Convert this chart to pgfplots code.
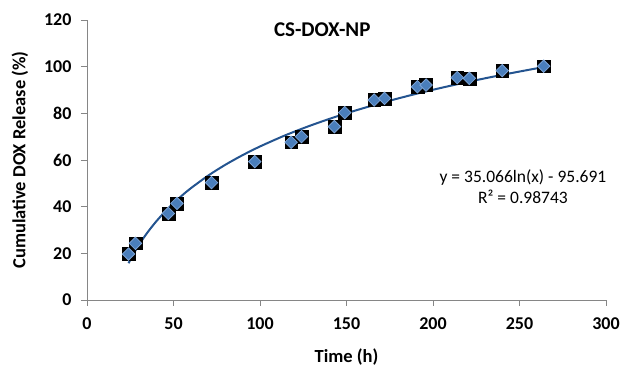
\documentclass[border=0pt]{standalone}
\usepackage{fontspec}
\setmainfont{Carlito}
\usepackage{pgfplots}
\pgfplotsset{compat=1.18}
\definecolor{axgray}{HTML}{868686}
\definecolor{mkblue}{HTML}{4A7EBB}
\definecolor{mkedge}{HTML}{7BA3D6}
\definecolor{trend}{HTML}{245490}
\pgfplotstableread{
x y
24 19.7
28 24.3
47 37.1
52 41.4
72 50.3
97 59.3
118 67.6
124 70.0
143 74.3
149 80.3
166 85.7
172 86.4
191 91.4
196 92.1
214 95.3
221 95.0
240 98.3
264 100.2
}\release
\begin{document}
\begin{tikzpicture}
\begin{axis}[
  scale only axis, width=519pt, height=280pt,
  xmin=0, xmax=300, ymin=0, ymax=120,
  xtick={0,50,...,300}, ytick={0,20,...,120},
  axis lines=left,
  axis line style={-, draw=axgray, line width=0.9pt},
  tick align=outside,
  major tick length=6pt,
  tick style={draw=axgray, line width=0.9pt},
  /pgf/number format/assume math mode=true,
  tick label style={font=\fontsize{18}{20}\selectfont\bfseries},
  xticklabel style={yshift=-8pt},
  yticklabel style={xshift=-6pt},
  xlabel={Time (h)},
  ylabel={Cumulative DOX Release (\%)},
  label style={font=\fontsize{18.5}{21}\selectfont\bfseries},
  xlabel style={at={(axis description cs:0.5,0)}, anchor=center, yshift=-57pt},
  ylabel style={at={(axis description cs:0,0.5)}, anchor=center, rotate=0, yshift=67pt},
  clip=false,
]
\coordinate (O) at (rel axis cs:0,0);
\addplot[only marks, mark=square*, mark size=6.4pt, mark options={fill=black, draw=black}] table[x=x,y=y] {\release};
\addplot[only marks, mark=square*, mark size=4.4pt, mark options={rotate=45, fill=mkblue, draw=mkedge, line width=0.8pt}] table[x=x,y=y] {\release};
\addplot[trend, line width=2pt, smooth] coordinates {
(24,15.75) (26,18.56) (28,21.16) (30,23.58) (33,26.92) (36,29.97) (40,33.66)
(45,37.79) (50,41.49) (55,44.83) (60,47.88) (70,53.29) (80,57.97) (90,62.10)
(100,65.80) (115,70.70) (130,74.99) (145,78.82) (160,82.27) (180,86.41)
(200,90.10) (220,93.44) (240,96.49) (264,99.84)};
\node[font=\fontsize{21}{23}\selectfont\bfseries] at (axis cs:136,116) {CS-DOX-NP};
\node[align=center, font=\fontsize{17.5}{21.5}\selectfont] at (axis cs:252,48.5) {y = 35.066ln(x) - 95.691\\R² = 0.98743};
\end{axis}
\pgfresetboundingbox
\path[use as bounding box] (O) ++(-87pt,-71pt) rectangle ++(624pt,371pt);
\end{tikzpicture}
\end{document}
